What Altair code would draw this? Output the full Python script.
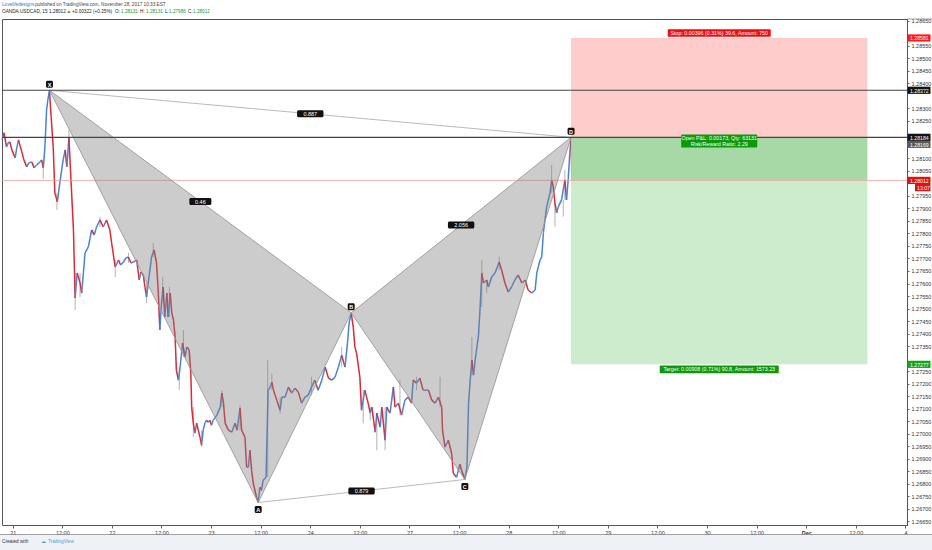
import altair as alt
import pandas as pd

# ---- price path: trading hours since Tue 21 Nov 00:00 (weekend removed) and close ----
hours = [-2.6, -2.1, -1.5, -1.1, -0.7, -0.2, 0.6, 0.9, 1.4, 1.8, 2.2, 2.7, 3.4, 3.9, 4.6, 5.2, 5.8, 6.4,
         7.0, 7.4, 7.8, 8.2, 8.5, 8.9, 9.3, 9.8, 10.2, 10.8, 11.4, 12.2, 12.7, 13.1, 13.6, 14.1, 14.7,
         15.1, 15.6, 16.3, 16.7, 17.5, 18.3, 19.1, 19.7, 20.3, 21.1, 21.9, 22.7, 23.5, 24.0, 24.8, 25.6,
         26.1, 26.8, 27.4, 28.0, 28.6, 29.2, 30.0, 30.6, 31.0, 31.6, 32.0, 32.4, 32.8, 33.6, 34.2, 34.8,
         35.2, 35.6, 36.0, 36.4, 36.8, 37.3, 37.6, 38.1, 38.5, 38.9, 39.3, 39.6, 40.1, 40.5, 41.1, 41.7,
         42.1, 42.7, 43.1, 43.3, 43.7, 44.1, 44.5, 44.9, 45.3, 45.7, 46.1, 46.5, 46.9, 47.3, 47.7, 48.1,
         48.5, 49.4, 50.2, 50.6, 51.0, 51.4, 52.2, 53.0, 53.8, 54.3, 55.0, 55.4, 56.2, 56.6, 57.0, 57.4,
         57.8, 58.2, 59.0, 59.4, 59.8, 60.2, 60.6, 61.3, 61.8, 62.3, 62.7, 63.1, 63.5, 63.9, 64.7, 65.1,
         65.9, 66.7, 67.5, 68.3, 69.1, 69.9, 70.7, 71.5, 72.3, 73.1, 73.9, 74.8, 75.6, 76.4, 77.2, 78.0,
         78.8, 79.6, 80.4, 81.0, 81.4, 81.9, 82.4, 82.8, 83.2, 84.0, 84.4, 85.2, 86.0, 86.5, 86.9, 87.7,
         88.1, 88.9, 89.3, 90.1, 90.5, 91.3, 92.1, 92.5, 93.3, 94.1, 94.9, 95.7, 96.5, 96.9, 97.7, 98.5,
         99.3, 100.6, 101.4, 102.2, 103.0, 103.8, 104.0, 104.6, 105.4, 106.2, 106.6, 107.4, 108.2, 108.6,
         109.4, 109.9, 110.3, 110.7, 111.1, 111.5, 111.9, 112.7, 113.1, 113.5, 113.9, 114.7, 115.1, 115.9,
         116.7, 117.7, 118.3, 119.1, 119.9, 120.7, 121.5, 122.3, 123.2, 124.0, 124.7, 125.6, 126.4, 126.8,
         127.6, 128.0, 128.4, 129.2, 130.0, 130.4, 130.8, 131.2, 131.6, 132.0, 132.8, 133.6, 134.0, 134.4,
         134.8, 135.1, 135.3]
closes = [1.28174, 1.28202, 1.28146, 1.28162, 1.28166, 1.28134, 1.28102, 1.28134, 1.28174, 1.28150,
          1.28126, 1.28094, 1.28066, 1.28082, 1.28086, 1.28062, 1.28074, 1.28082, 1.28094, 1.28062,
          1.28146, 1.28294, 1.28334, 1.28372, 1.28266, 1.28146, 1.27962, 1.27926, 1.28002, 1.28094,
          1.28134, 1.28066, 1.28182, 1.28014, 1.27814, 1.27542, 1.27642, 1.27602, 1.27562, 1.27722,
          1.27746, 1.27814, 1.27794, 1.27826, 1.27854, 1.27826, 1.27854, 1.27814, 1.27754, 1.27666,
          1.27694, 1.27674, 1.27686, 1.27702, 1.27706, 1.27682, 1.27686, 1.27694, 1.27614, 1.27646,
          1.27634, 1.27586, 1.27546, 1.27602, 1.27706, 1.27734, 1.27682, 1.27574, 1.27414, 1.27522,
          1.27586, 1.27466, 1.27562, 1.27466, 1.27562, 1.27482, 1.27454, 1.27386, 1.27254, 1.27214,
          1.27266, 1.27362, 1.27306, 1.27346, 1.27334, 1.27242, 1.27106, 1.27042, 1.27002, 1.27042,
          1.27014, 1.26986, 1.26954, 1.27014, 1.27042, 1.27054, 1.27046, 1.27054, 1.27034, 1.27054,
          1.27074, 1.27106, 1.27162, 1.27122, 1.27042, 1.27014, 1.27006, 1.27042, 1.27014, 1.27102,
          1.27014, 1.26986, 1.26866, 1.26866, 1.26934, 1.26854, 1.26802, 1.26746, 1.26725, 1.26786,
          1.26774, 1.26814, 1.26826, 1.27174, 1.27186, 1.27206, 1.27174, 1.27154, 1.27134, 1.27094,
          1.27146, 1.27146, 1.27186, 1.27162, 1.27182, 1.27166, 1.27122, 1.27146, 1.27154, 1.27186,
          1.27214, 1.27174, 1.27214, 1.27266, 1.27222, 1.27214, 1.27226, 1.27266, 1.27314, 1.27266,
          1.27362, 1.27442, 1.27483, 1.27426, 1.27346, 1.27322, 1.27226, 1.27094, 1.27174, 1.27122,
          1.27082, 1.27106, 1.27006, 1.27082, 1.27026, 1.27106, 1.26974, 1.27106, 1.27082, 1.27186,
          1.27106, 1.27122, 1.27074, 1.27134, 1.27146, 1.27122, 1.27214, 1.27202, 1.27222, 1.27174,
          1.27174, 1.27134, 1.27122, 1.27146, 1.27106, 1.27014, 1.26946, 1.26974, 1.26922, 1.26842,
          1.26826, 1.26878, 1.26854, 1.26817, 1.26866, 1.27122, 1.27214, 1.27294, 1.27234, 1.27294,
          1.27394, 1.27506, 1.27642, 1.27602, 1.27614, 1.27586, 1.27626, 1.27642, 1.27686, 1.27654,
          1.27602, 1.27566, 1.27586, 1.27614, 1.27634, 1.27602, 1.27614, 1.27574, 1.27562, 1.27574,
          1.27642, 1.27694, 1.27706, 1.27802, 1.27906, 1.27962, 1.28014, 1.27986, 1.27922, 1.27882,
          1.27906, 1.27934, 1.28014, 1.27934, 1.28014, 1.28122, 1.28184, 1.28012]

# ---- candle wicks that stick out of the body path ----
wick_hours = [7.4, 10.7, 13.6, 15.1, 16.3, 21.1, 24.8, 28.0, 32.4, 34.0, 36.3, 37.9, 40.3, 41.3,
              43.7, 45.7, 50.6, 55.0, 61.7, 62.7, 64.7, 72.3, 79.6, 84.8, 86.5, 88.1, 90.1, 93.7,
              97.7, 103.4, 111.1, 113.5, 114.7, 117.7, 130.4, 131.2, 133.2, 133.6]
wick_lows = [1.28018, 1.27894, 1.28150, 1.27494, 1.27546, 1.27826, 1.27626, 1.27682, 1.27522, 1.27706,
             1.27522, 1.27466, 1.27174, 1.27306, 1.26987, 1.26947, 1.27106, 1.27014, 1.26826, 1.27174,
             1.27081, 1.27154, 1.27266, 1.27042, 1.27054, 1.26934, 1.26934, 1.27074, 1.27174, 1.27106,
             1.27234, 1.27506, 1.27561, 1.27654, 1.27962, 1.27827, 1.27867, 1.27934]
wick_highs = [1.28094, 1.27962, 1.28214, 1.27642, 1.27642, 1.27866, 1.27694, 1.27722, 1.27602, 1.27762,
              1.27627, 1.27587, 1.27266, 1.27414, 1.27106, 1.27014, 1.27174, 1.27114, 1.27294, 1.27241,
              1.27146, 1.27227, 1.27347, 1.27174, 1.27106, 1.27082, 1.27106, 1.27214, 1.27227, 1.27227,
              1.27387, 1.27694, 1.27614, 1.27707, 1.28074, 1.27922, 1.27934, 1.28054]

# ---- XABCD pattern pivots ----
pivot_names = ["X", "A", "B", "C", "D"]
pivot_hours = [8.9, 59.4, 81.9, 109.4, 135.1]
pivot_prices = [1.28372, 1.26725, 1.27483, 1.26817, 1.28184]
ratio_pairs = [("X", "B"), ("A", "C"), ("B", "D"), ("X", "D")]
ratio_labels = ["0.46", "0.879", "2.056", "0.887"]

# ---- short position tool ----
entry_price = 1.28185
stop_price = 1.28581
target_price = 1.27277
last_price = 1.28012
ask_price = 1.28169
position_start = 135.1
position_end = 206.8
stop_text = "Stop: 0.00396 (0.31%) 39.6, Amount: 750"
pnl_lines = ["Open P&L: 0.00173, Qty: 63131", "Risk/Reward Ratio: 2.29"]
target_text = "Target: 0.00908 (0.71%) 90.8, Amount: 1573.23"

# ---- horizontal levels ----
levels = [1.28372, 1.28184]

# ---- axes ----
time_labels = ["21", "12:00", "22", "12:00", "23", "12:00", "24", "12:00", "27", "12:00",
               "28", "12:00", "29", "12:00", "30", "12:00", "Dec", "12:00", "4"]
time_ticks = [12 * i for i in range(len(time_labels))]
# scale labels hidden behind the price tags
covered_ticks = [1.286, 1.2835, 1.282, 1.2815, 1.28, 1.273]
price_ticks = [v for v in (round(1.2665 + 0.0005 * i, 5) for i in range(41)) if v not in covered_ticks]

FONT = "Liberation Sans"
UP = "#4a84d6"
DOWN = "#dc2a36"
W, H = 905, 506

xs = alt.Scale(domain=[-2.59, 216.38], nice=False, zero=False)
ys = alt.Scale(domain=[1.266352, 1.286568], nice=False, zero=False)

label_expr = "[" + ",".join("'%s'" % t for t in time_labels) + "][round(datum.value / 12)]"
X_AXIS = alt.Axis(
    values=time_ticks, labelExpr=label_expr, title=None, grid=False, domain=False,
    labelFont=FONT, labelFontSize=5.5, labelColor="#333", tickColor="#666", tickSize=3,
    labelPadding=2, labelFlush=False,
    labelFontWeight={"condition": {"test": "datum.value == 192", "value": "bold"}, "value": "normal"})
Y_AXIS = alt.Axis(
    orient="right", values=price_ticks, format=".5f", title=None, grid=False,
    domainColor="#555", labelFont=FONT, labelFontSize=5.5, labelColor="#333",
    tickColor="#666", tickSize=2, labelPadding=2)


def X(field):
    return alt.X(field, scale=xs, axis=X_AXIS)


def Y(field):
    return alt.Y(field, scale=ys, axis=Y_AXIS)


# candle bodies traced close to close, coloured by direction
seg = pd.DataFrame({
    "h0": hours[:-1], "h1": hours[1:], "p0": closes[:-1], "p1": closes[1:],
})
seg["col"] = [UP if b >= a else DOWN for a, b in zip(closes[:-1], closes[1:])]
candles = alt.Chart(seg).mark_rule(strokeWidth=1.5).encode(
    x=X("h0:Q"), x2="h1:Q", y=Y("p0:Q"), y2="p1:Q", color=alt.Color("col:N", scale=None))

wicks = alt.Chart(pd.DataFrame({"h": wick_hours, "lo": wick_lows, "hi": wick_highs})).mark_rule(
    color="#a9a9a9", strokeWidth=0.9).encode(x=X("h:Q"), y=Y("lo:Q"), y2="hi:Q")

# position boxes
pos = pd.DataFrame({
    "h0": [position_start] * 3, "h1": [position_end] * 3,
    "top": [stop_price, entry_price, last_price],
    "bot": [entry_price, last_price, target_price],
    "col": ["#ffcccc", "#a6d9a6", "#cdebcd"],
})
boxes = alt.Chart(pos).mark_rect().encode(
    x=X("h0:Q"), x2="h1:Q", y=Y("top:Q"), y2="bot:Q", color=alt.Color("col:N", scale=None))

# horizontal level lines and current price line
level_lines = alt.Chart(pd.DataFrame({"p": levels})).mark_rule(color="#444", strokeWidth=1.1).encode(
    y=Y("p:Q"), x=alt.value(0), x2=alt.value(W))
last_line = alt.Chart(pd.DataFrame({"p": [last_price]})).mark_rule(
    color="#f3a0a0", strokeWidth=0.8).encode(y=Y("p:Q"), x=alt.value(0), x2=alt.value(W))

# pattern triangles
px = dict(zip(pivot_names, zip(pivot_hours, pivot_prices)))


def triangle(a, b, c, name):
    (ha, pa), (hb, pb), (hc, pc) = px[a], px[b], px[c]
    mid_top = pa + (pc - pa) * (hb - ha) / (hc - ha)
    return pd.DataFrame({"h": [ha, hb, hc], "top": [pa, mid_top, pc], "bot": [pa, pb, pc], "tri": name})


tri = pd.concat([triangle("X", "A", "B", "t1"), triangle("B", "C", "D", "t2")])
tri_fill = alt.Chart(tri).mark_area(color="#808080", opacity=0.4).encode(
    x=X("h:Q"), y=Y("top:Q"), y2="bot:Q", detail="tri:N")


def segments(pairs):
    return pd.DataFrame([{"h0": px[a][0], "h1": px[b][0], "p0": px[a][1], "p1": px[b][1]} for a, b in pairs])


edge_lines = alt.Chart(segments([("X", "A"), ("A", "B"), ("B", "X"), ("B", "C"), ("C", "D"), ("D", "B")])
                       ).mark_rule(color="#9a9a9a", strokeWidth=0.9).encode(
    x=X("h0:Q"), x2="h1:Q", y=Y("p0:Q"), y2="p1:Q")
thin_lines = alt.Chart(segments([("X", "D"), ("A", "C")])).mark_rule(color="#a8a8a8", strokeWidth=0.8).encode(
    x=X("h0:Q"), x2="h1:Q", y=Y("p0:Q"), y2="p1:Q")

# pivot letter tags
pv = pd.DataFrame({"name": pivot_names, "h": pivot_hours, "p": pivot_prices})
above = pv[pv["name"].isin(["X", "B", "D"])]
below = pv[pv["name"].isin(["A", "C"])]


def tags(df, dy):
    box = alt.Chart(df).mark_rect(color="#111", cornerRadius=1.5, xOffset=-3.5, x2Offset=3.5,
                                  yOffset=dy - 3.5, y2Offset=dy + 3.5).encode(
        x=X("h:Q"), x2="h:Q", y=Y("p:Q"), y2="p:Q")
    txt = alt.Chart(df).mark_text(color="white", font=FONT, fontSize=5.5, fontWeight="bold",
                                  dy=dy + 0.3, baseline="middle").encode(
        x=X("h:Q"), y=Y("p:Q"), text="name:N")
    return [box, txt]


# ratio tags at segment midpoints
rt = pd.DataFrame({
    "h": [(px[a][0] + px[b][0]) / 2 for a, b in ratio_pairs],
    "p": [(px[a][1] + px[b][1]) / 2 for a, b in ratio_pairs],
    "label": ratio_labels,
    "half": [2.2 + 2.2 * len(t) for t in ratio_labels],
})
ratio_layers = []
for _, r in rt.iterrows():
    ratio_layers.append(alt.Chart(pd.DataFrame([r])).mark_rect(
        color="#111", cornerRadius=1.5, xOffset=-r["half"], x2Offset=r["half"],
        yOffset=-3.5, y2Offset=3.5).encode(x=X("h:Q"), x2="h:Q", y=Y("p:Q"), y2="p:Q"))
ratio_layers.append(alt.Chart(rt).mark_text(color="white", font=FONT, fontSize=5.5, baseline="middle",
                                            dy=0.3).encode(x=X("h:Q"), y=Y("p:Q"), text="label:N"))

# position tool labels
mid_h = (position_start + position_end) / 2


def tag_box(price, dy, half_w, half_h, fill):
    return alt.Chart(pd.DataFrame({"h": [mid_h], "p": [price]})).mark_rect(
        color=fill, cornerRadius=1, xOffset=-half_w, x2Offset=half_w,
        yOffset=dy - half_h, y2Offset=dy + half_h).encode(x=X("h:Q"), x2="h:Q", y=Y("p:Q"), y2="p:Q")


def tag_text(price, dy, text):
    return alt.Chart(pd.DataFrame({"h": [mid_h], "p": [price], "t": [text]})).mark_text(
        color="white", font=FONT, fontSize=5.3, baseline="middle", dy=dy).encode(
        x=X("h:Q"), y=Y("p:Q"), text="t:N")


pos_labels = [
    tag_box(stop_price, -5, 51.5, 3.8, "#f20d0d"), tag_text(stop_price, -5, stop_text),
    tag_box(entry_price, 4, 38, 6.5, "#0a9a0a"),
    tag_text(entry_price, 1.2, pnl_lines[0]), tag_text(entry_price, 7.0, pnl_lines[1]),
    tag_box(target_price, 5, 59.5, 3.8, "#0a9a0a"), tag_text(target_price, 5, target_text),
]

# price tags on the right axis
axis_tags = pd.DataFrame({
    "p": [stop_price, 1.28372, 1.28184, last_price, target_price],
    "t": ["1.28581", "1.28372", "1.28184", "1.28012", "1.27277"],
    "fill": ["#ff1a1a", "#131313", "#131313", "#e01010", "#1aa31a"],
})
TAG_FONT = 5.2
axis_layers = [
    alt.Chart(axis_tags).mark_rect(yOffset=-3.6, y2Offset=3.6).encode(
        y=Y("p:Q"), y2="p:Q", x=alt.value(W + 0.5), x2=alt.value(W + 23.5),
        color=alt.Color("fill:N", scale=None)),
    alt.Chart(axis_tags).mark_text(color="white", font=FONT, fontSize=TAG_FONT, baseline="middle",
                                   align="left", dy=0.3).encode(
        y=Y("p:Q"), x=alt.value(W + 3), text="t:N"),
    # the lower of the two stacked tags near the entry is pushed below its neighbour
    alt.Chart(pd.DataFrame({"p": [ask_price]})).mark_rect(
        color="#5a5a5a", yOffset=-0.4, y2Offset=6.8).encode(
        y=Y("p:Q"), y2="p:Q", x=alt.value(W + 0.5), x2=alt.value(W + 23.5)),
    alt.Chart(pd.DataFrame({"p": [ask_price], "t": ["1.28169"]})).mark_text(
        color="white", font=FONT, fontSize=TAG_FONT, baseline="middle", align="left", dy=3.6).encode(
        y=Y("p:Q"), x=alt.value(W + 3), text="t:N"),
    alt.Chart(pd.DataFrame({"p": [last_price]})).mark_rect(
        color="#e01010", yOffset=3.6, y2Offset=10.8).encode(
        y=Y("p:Q"), y2="p:Q", x=alt.value(W + 8), x2=alt.value(W + 23.5)),
    alt.Chart(pd.DataFrame({"p": [last_price], "t": ["13:07"]})).mark_text(
        color="white", font=FONT, fontSize=TAG_FONT, baseline="middle", align="left", dy=7.6).encode(
        y=Y("p:Q"), x=alt.value(W + 10), text="t:N"),
]

# header lines and footer text, each piece placed in pixels
GREEN = "#22a022"
text_parts = [
    (0, -14, "Lovelifedesigns", "#2e7bcf"),
    (33, -14, "published on TradingView.com, November 28, 2017 10:33 EST", "#444"),
    (0, -7, "OANDA:USDCAD, 15  1.28012", "#222"),
    (64.5, -7, "\u25b2", GREEN),
    (70, -7, "+0.00322 (+0.25%)", "#222"),
    (113, -7, "O:", "#222"),
    (119, -7, "1.28131", GREEN),
    (138, -7, "H:", "#222"),
    (144, -7, "1.28131", GREEN),
    (163, -7, "L:", "#222"),
    (167, -7, "1.27986", GREEN),
    (186, -7, "C:", "#222"),
    (191, -7, "1.28012", GREEN),
    (0, 523, "Created with", "#333"),
    (39, 523, "\u2601", "#4aa3df"),
    (46, 523, "TradingView", "#4aa3df"),
]
text_layers = [
    alt.Chart(pd.DataFrame({"k": [0]})).mark_text(
        font=FONT, fontSize=4.7, align="left", baseline="middle", color=c, text=t).encode(
        x=alt.value(xv), y=alt.value(yv))
    for xv, yv, t, c in text_parts
]

blank = pd.DataFrame({"k": [0]})
footer_bg = alt.Chart(blank).mark_rect(color="#eef1f6").encode(
    x=alt.value(-2), x2=alt.value(930), y=alt.value(516), y2=alt.value(531))
time_frame = alt.Chart(blank).mark_rule(color="#8a8a8a", strokeWidth=0.8).encode(
    x=alt.value(-2), x2=alt.value(930), y=alt.value(515.5))
axis_top = alt.Chart(blank).mark_rule(color="#8a8a8a", strokeWidth=0.8).encode(
    x=alt.value(W), x2=alt.value(930), y=alt.value(0))

chart = alt.layer(
    wicks, candles, footer_bg, time_frame, axis_top,
    boxes, last_line, tri_fill, edge_lines, thin_lines, level_lines,
    *tags(above, -6), *tags(below, 7),
    *ratio_layers,
    *pos_labels,
    *axis_layers,
    *text_layers,
).properties(
    width=W, height=H,
    padding={"left": 2, "top": 19, "right": 25, "bottom": 25},
    autosize=alt.AutoSizeParams(type="none"),
    background="white",
).configure_view(stroke="#555", strokeWidth=1)

chart.save("out.html", embed_options={"renderer": "svg", "actions": False})
